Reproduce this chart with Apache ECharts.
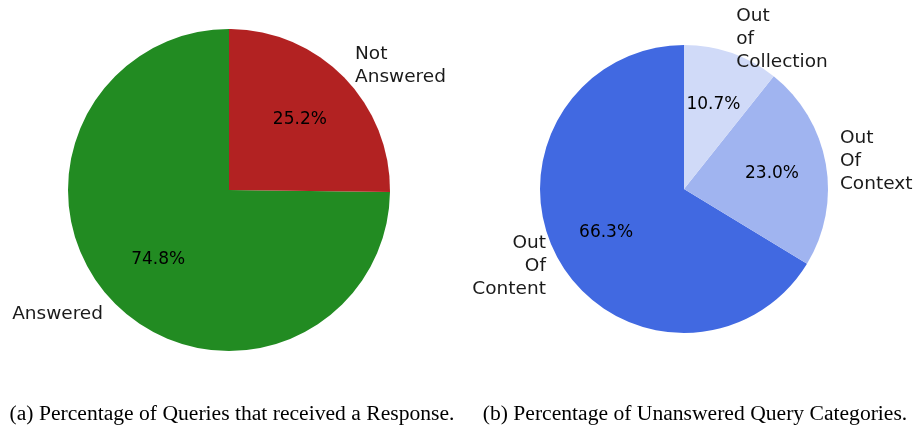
<!DOCTYPE html>
<html>
<head>
<meta charset="utf-8">
<script src="https://cdn.jsdelivr.net/npm/echarts@6/dist/echarts.min.js"></script>
<style>
html,body{margin:0;padding:0;background:#fff;}
#c{width:913px;height:429px;}
</style>
</head>
<body>
<div id="c"></div>
<script>
// ---- data ----
const leftNames = ['Answered', 'Not\nAnswered'];
const leftValues = [74.8, 25.2];
const leftColors = ['#228B22', '#B22222'];
const leftCaption = '(a) Percentage of Queries that received a Response.';

const rightNames = ['Out\nOf\nContent', 'Out\nOf\nContext', 'Out\nof\nCollection'];
const rightValues = [66.3, 23.0, 10.7];
const rightColors = ['#4169E1', '#A0B4F0', '#D0DAF8'];
const rightCaption = '(b) Percentage of Unanswered Query Categories.';

// ---- layout ----
const LC = [229, 190], LR = 161;
const RC = [684, 189], RR = 144;
const FONT = 'DejaVu Sans';

function pieSeries(names, values, colors, center, r) {
  const data = names.map((n, i) => ({ name: n, value: values[i], itemStyle: { color: colors[i] } }));
  const main = {
    type: 'pie',
    center: center,
    radius: [0, r],
    startAngle: 90,
    clockwise: false,
    avoidLabelOverlap: false,
    silent: true,
    animation: false,
    data: data,
    itemStyle: { borderWidth: 0 },
    label: {
      show: true,
      position: 'outside',
      formatter: '{b}',
      fontFamily: FONT,
      fontSize: 18.5,
      lineHeight: 23,
      color: '#1a1a1a',
      distanceToLabelLine: 0
    },
    labelLine: { show: false, length: r * 0.1, length2: 0 }
  };
  const pct = {
    type: 'pie',
    center: center,
    radius: [0, r * 1.2],
    startAngle: 90,
    clockwise: false,
    avoidLabelOverlap: false,
    silent: true,
    animation: false,
    data: names.map((n, i) => ({ name: n, value: values[i], itemStyle: { color: 'rgba(0,0,0,0)' } })),
    label: {
      show: true,
      position: 'inside',
      formatter: p => p.value.toFixed(1) + '%',
      fontFamily: FONT,
      fontSize: 17,
      color: '#000'
    },
    labelLine: { show: false }
  };
  return [main, pct];
}

const capStyle = { fontFamily: 'Liberation Serif', fontSize: 21.6, fontWeight: 'normal', color: '#000' };
const chart = echarts.init(document.getElementById('c'), null, { renderer: 'canvas' });
chart.setOption({
  backgroundColor: '#fff',
  animation: false,
  title: [
    { text: leftCaption, left: 232, top: 403, textAlign: 'center', padding: 0, textStyle: capStyle },
    { text: rightCaption, left: 695, top: 403, textAlign: 'center', padding: 0, textStyle: capStyle }
  ],
  series: [
    ...pieSeries(leftNames, leftValues, leftColors, LC, LR),
    ...pieSeries(rightNames, rightValues, rightColors, RC, RR)
  ]
});
</script>
</body>
</html>
